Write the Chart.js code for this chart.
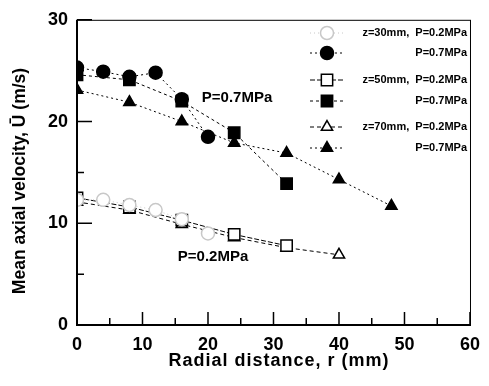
<!DOCTYPE html>
<html>
<head>
<meta charset="utf-8">
<script src="https://cdn.jsdelivr.net/npm/chart.js@4.4.0/dist/chart.umd.min.js"></script>
<style>
  html, body { margin: 0; padding: 0; background: #fff; }
  #wrap { width: 489px; height: 386px; }
</style>
</head>
<body>
<div id="wrap"><canvas id="grafik"></canvas></div>
<script>
// radial positions (mm) and mean axial velocity (m/s)
const R_Z30 = [0, 4, 8, 12, 16, 20];
const U_Z30_LOW = [12.3, 12.3, 11.8, 11.3, 10.4, 9.0];
const U_Z30_HIGH = [25.3, 24.9, 24.4, 24.8, 22.2, 18.5];

const R_Z50 = [0, 8, 16, 24, 32];
const U_Z50_LOW = [12.5, 11.6, 10.3, 8.9, 7.8];
const U_Z50_HIGH = [24.6, 24.1, 22.0, 18.9, 13.9];

const R_Z70_LOW = [0, 8, 16, 24, 32, 40];
const U_Z70_LOW = [12.1, 11.3, 9.9, 8.6, 7.6, 6.9];
const R_Z70_HIGH = [0, 8, 16, 24, 32, 40, 48];
const U_Z70_HIGH = [23.1, 21.9, 20.0, 17.9, 16.9, 14.3, 11.7];

const X_TICKS = [0, 10, 20, 30, 40, 50, 60];
const Y_TICKS = [0, 10, 20, 30];

const LEGEND_LABELS = ['z=30mm,  P=0.2MPa', 'P=0.7MPa', 'z=50mm,  P=0.2MPa', 'P=0.7MPa', 'z=70mm,  P=0.2MPa', 'P=0.7MPa'];

const FONT = 'Liberation Sans, Arial, sans-serif';

function pts(xs, ys) {
    return xs.map((x, i) => ({ x: x, y: ys[i] }));
}

function series(label, xs, ys, style, filled, dash, col) {
    const c = col || '#000';
    return {
        label: label,
        data: pts(xs, ys),
        showLine: true,
        borderColor: c,
        borderWidth: 1,
        borderDash: dash,
        pointStyle: style,
        pointRadius: style === 'rect' ? 8 : 6.5,
        pointBorderWidth: 1.5,
        pointBorderColor: c,
        pointBackgroundColor: filled ? c : '#fff',
        fill: false
    };
}

const datasets = [
    series(LEGEND_LABELS[0], R_Z30, U_Z30_LOW, 'circle', false, [1, 3], '#c8c8c8'),
    series(LEGEND_LABELS[1], R_Z30, U_Z30_HIGH, 'circle', true, [2, 3]),
    series(LEGEND_LABELS[2], R_Z50, U_Z50_LOW, 'rect', false, [5, 2]),
    series(LEGEND_LABELS[3], R_Z50, U_Z50_HIGH, 'rect', true, [3, 3]),
    series(LEGEND_LABELS[4], R_Z70_LOW, U_Z70_LOW, 'triangle', false, [4, 3]),
    series(LEGEND_LABELS[5], R_Z70_HIGH, U_Z70_HIGH, 'triangle', true, [2, 3])
];

const framePlugin = {
    id: 'frame',
    afterDraw(chart) {
        const ctx = chart.ctx;
        const a = chart.chartArea;
        const xs = chart.scales.x, ys = chart.scales.y;
        ctx.save();
        ctx.strokeStyle = '#000';
        ctx.lineWidth = 1;
        ctx.strokeRect(a.left + 0.5, a.top + 0.5, a.right - a.left, a.bottom - a.top);
        ctx.lineWidth = 2;
        ctx.beginPath();
        ctx.moveTo(a.left, a.top); ctx.lineTo(a.left, a.bottom); ctx.lineTo(a.right, a.bottom);
        ctx.stroke();
        // inward ticks
        ctx.lineWidth = 1.5;
        ctx.beginPath();
        for (let v = 0; v <= 60; v += 5) {
            const px = xs.getPixelForValue(v);
            const len = v % 10 === 0 ? 13 : 7;
            ctx.moveTo(px, a.bottom); ctx.lineTo(px, a.bottom - len);
        }
        for (let v = 0; v <= 30; v += 5) {
            const py = ys.getPixelForValue(v);
            const len = v % 10 === 0 ? 15 : 7;
            ctx.moveTo(a.left, py); ctx.lineTo(a.left + len, py);
        }
        ctx.stroke();

        // axis titles
        ctx.fillStyle = '#000';
        ctx.textAlign = 'center';
        ctx.textBaseline = 'middle';
        ctx.font = 'bold 18px ' + FONT;
        ctx.letterSpacing = '1px';
        ctx.fillText('Radial distance, r (mm)', 279, 361);
        ctx.letterSpacing = '0px';
        ctx.save();
        ctx.translate(20, 181);
        ctx.rotate(-Math.PI / 2);
        ctx.font = 'bold 17.5px ' + FONT;
        ctx.fillText('Mean axial velocity, Ū (m/s)', 0, 0);
        ctx.restore();

        // annotations
        ctx.font = 'bold 15px ' + FONT;
        ctx.fillText('P=0.7MPa', 237, 98);
        ctx.fillText('P=0.2MPa', 213, 257);

        // legend
        const rows = [33, 53, 80, 101, 127, 148];
        chart.data.datasets.forEach((ds, i) => {
            const y = rows[i];
            ctx.save();
            ctx.strokeStyle = ds.borderColor;
            ctx.lineWidth = 1;
            ctx.setLineDash(ds.borderDash);
            ctx.beginPath();
            ctx.moveTo(310, y); ctx.lineTo(345, y);
            ctx.stroke();
            ctx.setLineDash([]);
            ctx.fillStyle = ds.pointBackgroundColor;
            ctx.strokeStyle = ds.pointBorderColor;
            ctx.lineWidth = ds.pointBorderWidth;
            Chart.helpers.drawPoint(ctx, { pointStyle: ds.pointStyle, radius: ds.pointRadius, borderWidth: ds.pointBorderWidth, rotation: 0 }, 327, y);
            ctx.restore();
            ctx.fillStyle = '#000';
            ctx.font = 'bold 11px ' + FONT;
            ctx.textAlign = 'right';
            ctx.textBaseline = 'middle';
            ctx.fillText(ds.label, 467, y);
        });
        ctx.restore();
    }
};

const ctx = document.getElementById('grafik').getContext('2d');

new Chart(ctx, {
    type: 'line',
    data: { datasets: datasets },
    options: {
        responsive: true,
        maintainAspectRatio: false,
        animation: false,
        layout: { padding: { left: 0, top: 16, right: 9, bottom: 0 } },
        plugins: {
            legend: { display: false },
            tooltip: { enabled: false }
        },
        scales: {
            x: {
                type: 'linear',
                min: 0,
                max: 60,
                afterBuildTicks: s => { s.ticks = X_TICKS.map(v => ({ value: v })); },
                afterFit: s => { s.height = 61; },
                grid: { display: false, drawTicks: false },
                border: { display: false },
                ticks: { color: '#000', padding: 9, font: { family: FONT, size: 18, weight: 'bold' } }
            },
            y: {
                min: 0,
                max: 30,
                afterBuildTicks: s => { s.ticks = Y_TICKS.map(v => ({ value: v })); },
                afterFit: s => { s.width = 77; },
                grid: { display: false, drawTicks: false },
                border: { display: false },
                ticks: { color: '#000', padding: 9, font: { family: FONT, size: 18, weight: 'bold' } }
            }
        }
    },
    plugins: [framePlugin]
});
</script>
</body>
</html>
